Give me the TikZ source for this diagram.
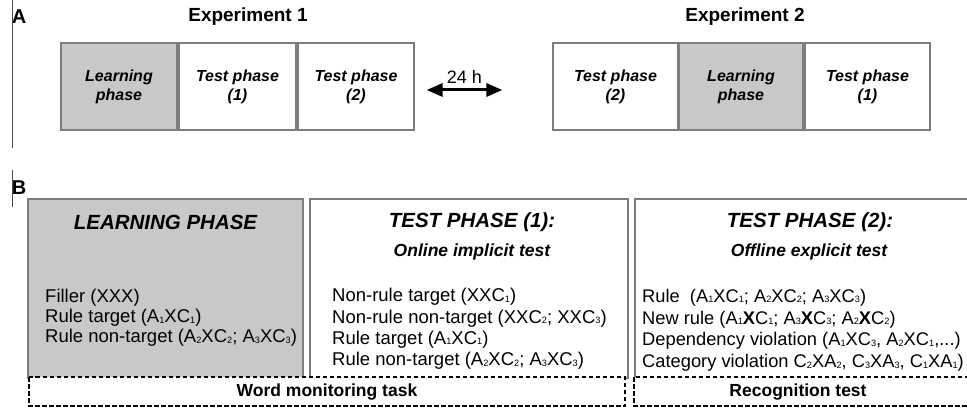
\documentclass[tikz,border=0pt]{standalone}
\usepackage{fontspec}
\setmainfont{Liberation Sans}
\usetikzlibrary{arrows.meta}
\newcommand\ix[1]{\raisebox{-0.5pt}{\fontsize{9.2}{9}\selectfont #1}}
\definecolor{boxgray}{RGB}{200,200,200}
\definecolor{edgegray}{RGB}{125,125,125}
\tikzset{
  phasebox/.style={draw=edgegray, line width=1.2pt, minimum height=87pt, inner sep=0pt, align=center,
    font=\fontsize{16}{19}\selectfont\bfseries\itshape},
  bigbox/.style={draw=edgegray, line width=1.2pt},
  dashbox/.style={draw=black, line width=1.9pt, dash pattern=on 4.5pt off 2.5pt},
  heading/.style={font=\fontsize{20.5}{24}\selectfont\bfseries\itshape, inner sep=0pt},
  subheading/.style={font=\fontsize{17.5}{21}\selectfont\bfseries\itshape, inner sep=0pt},
  listtext/.style={anchor=north west, inner sep=0pt, align=left},
  exptitle/.style={font=\fontsize{19}{22}\selectfont\bfseries, inner sep=0pt},
  paneltag/.style={font=\fontsize{20}{24}\selectfont\bfseries, inner sep=0pt},
  tasklabel/.style={font=\fontsize{17.5}{21}\selectfont\bfseries, inner sep=0pt},
}
\begin{document}
\begin{tikzpicture}[x=1pt,y=-1pt]
\useasboundingbox (0,0) rectangle (967,409);
\clip (0,0) rectangle (967,409);
% Panel A
\node[paneltag] (tagA) at (19,17) {A};
\coordinate (lineAtop) at (12,0);
\coordinate (lineAbot) at (12,148);
\draw[line width=1pt, black!70] (lineAtop) -- (lineAbot);
\node[exptitle] (exp1) at (248,17) {Experiment 1};
\node[exptitle] (exp2) at (745,17) {Experiment 2};
\node[phasebox, fill=boxgray, minimum width=116pt] (b1) at (119,86.5) {Learning\\phase};
\node[phasebox, fill=white, minimum width=117pt] (b2) at (237.5,86.5) {Test phase\\(1)};
\node[phasebox, fill=white, minimum width=116pt] (b3) at (356,86.5) {Test phase\\(2)};
\node[phasebox, fill=white, minimum width=125pt] (b4) at (615.5,86.5) {Test phase\\(2)};
\node[phasebox, fill=boxgray, minimum width=124pt] (b5) at (741,86.5) {Learning\\phase};
\node[phasebox, fill=white, minimum width=125pt] (b6) at (867.5,86.5) {Test phase\\(1)};
\draw[line width=3pt, {Triangle[length=16pt,width=13pt]}-{Triangle[length=16pt,width=13pt]}]
  ([xshift=12pt,yshift=-3.5pt]b3.east) -- node[above=5pt, font=\fontsize{18}{21}\selectfont, inner sep=0pt] (lbl24) {24 h} ([xshift=-50pt,yshift=-3.5pt]b4.west);
% Panel B
\node[paneltag] (tagB) at (19,188) {B};
\coordinate (lineBtop) at (12,170);
\coordinate (lineBbot) at (12,207);
\draw[line width=1pt, black!70] (lineBtop) -- (lineBbot);
\draw[bigbox, fill=boxgray] (28,199) rectangle (303,378);
\draw[bigbox, fill=white] (310,199) rectangle (628,378);
\draw[bigbox, fill=white] (635,199) rectangle (975,378);
\node[heading] (h1) at (165.5,222) {LEARNING PHASE};
\node[heading] (h2) at (472,222) {TEST PHASE (1):};
\node[subheading] (s2) at (472,252) {Online implicit test};
\node[heading] (h3) at (810,222) {TEST PHASE (2):};
\node[subheading] (s3) at (809,252) {Offline explicit test};
\node[listtext, font=\fontsize{18.5}{20}\selectfont] (l1) at (45,289) {Filler (XXX)\\Rule target (A\ix{1}XC\ix{1})\\Rule non-target (A\ix{2}XC\ix{2}; A\ix{3}XC\ix{3})};
\node[listtext, font=\fontsize{18.5}{21.4}\selectfont] (l2) at (332,288) {Non-rule target (XXC\ix{1})\\Non-rule non-target (XXC\ix{2}; XXC\ix{3})\\Rule target (A\ix{1}XC\ix{1})\\Rule non-target (A\ix{2}XC\ix{2}; A\ix{3}XC\ix{3})};
\node[listtext, font=\fontsize{18.3}{21.7}\selectfont] (l3) at (642,289) {Rule\ \ (A\ix{1}XC\ix{1}; A\ix{2}XC\ix{2}; A\ix{3}XC\ix{3})\\New rule (A\ix{1}\textbf{X}C\ix{1}; A\ix{3}\textbf{X}C\ix{3}; A\ix{2}\textbf{X}C\ix{2})\\Dependency violation (A\ix{1}XC\ix{3}, A\ix{2}XC\ix{1},...)\\Category violation C\ix{2}XA\ix{2}, C\ix{3}XA\ix{3}, C\ix{1}XA\ix{1})};
\draw[dashbox, fill=white] (29,377) rectangle (625,406);
\draw[dashbox, fill=white] (634,377) rectangle (972,406);
\node[tasklabel] (t1) at (327,392) {Word monitoring task};
\node[tasklabel] (t2) at (798,392) {Recognition test};
\end{tikzpicture}
\end{document}
